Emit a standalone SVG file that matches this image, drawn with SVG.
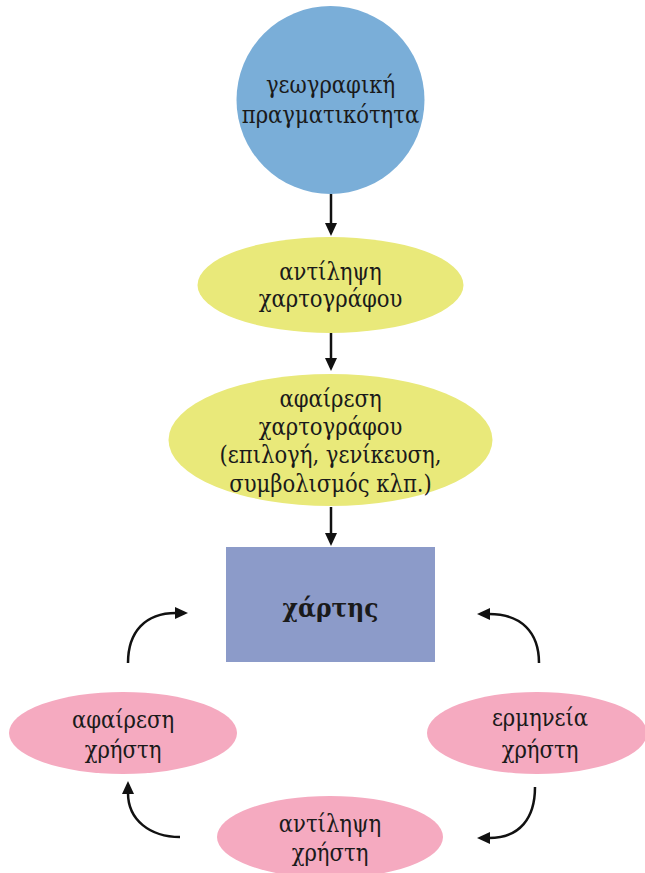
<svg xmlns="http://www.w3.org/2000/svg" width="645" height="873" viewBox="0 0 645 873">
<style>
.t{font-family:"DejaVu Serif Condensed","DejaVu Serif",serif;font-size:23.5px;fill:#1a1a1a;text-anchor:middle}
.b{font-weight:bold;font-size:26px}
.c{fill:none;stroke:#111;stroke-width:2.5}
</style>
<defs>
<marker id="ah" markerUnits="userSpaceOnUse" markerWidth="16" markerHeight="14" refX="1" refY="6" orient="auto">
<path d="M0,0 L13,6 L0,12 z" fill="#111"/>
</marker>
</defs>
<rect width="645" height="873" fill="#fff"/>
<g id="geo">
<circle cx="330.5" cy="100" r="94" fill="#7aaed8"/>
<text class="t" x="330.5" y="93">γεωγραφική</text>
<text class="t" x="330.5" y="123">πραγματικότητα</text>
</g>
<g id="antilipsi-xartografou">
<ellipse cx="330.5" cy="285" rx="133" ry="48" fill="#e9e97a"/>
<text class="t" x="330.5" y="280">αντίληψη</text>
<text class="t" x="330.5" y="307">χαρτογράφου</text>
</g>
<g id="afairesi-xartografou">
<ellipse cx="330.5" cy="440" rx="162" ry="66" fill="#e9e97a"/>
<text class="t" x="330.5" y="407">αφαίρεση</text>
<text class="t" x="330.5" y="435">χαρτογράφου</text>
<text class="t" x="330.5" y="463">(επιλογή, γενίκευση,</text>
<text class="t" x="330.5" y="492">συμβολισμός κλπ.)</text>
</g>
<g id="xartis">
<rect x="226" y="547" width="209" height="115" fill="#8c9bc9"/>
<text class="t b" x="330.5" y="617">χάρτης</text>
</g>
<g id="afairesi-xristi">
<ellipse cx="123" cy="733" rx="114" ry="41" fill="#f5aac0"/>
<text class="t" x="123" y="728">αφαίρεση</text>
<text class="t" x="123" y="758">χρήστη</text>
</g>
<g id="ermineia-xristi">
<ellipse cx="537" cy="733" rx="110" ry="41" fill="#f5aac0"/>
<text class="t" x="540" y="726">ερμηνεία</text>
<text class="t" x="540" y="758">χρήστη</text>
</g>
<g id="antilipsi-xristi">
<ellipse cx="330" cy="837" rx="113" ry="41" fill="#f5aac0"/>
<text class="t" x="330" y="832">αντίληψη</text>
<text class="t" x="330" y="861">χρήστη</text>
</g>
<g id="connectors">
<path class="c" d="M331,194 V224" marker-end="url(#ah)"/>
<path class="c" d="M331,333 V359" marker-end="url(#ah)"/>
<path class="c" d="M331,507 V534" marker-end="url(#ah)"/>
<path class="c" d="M128,663 C128,632 145,613 176,613" marker-end="url(#ah)"/>
<path class="c" d="M539,663 C539,632 521,614 489,614" marker-end="url(#ah)"/>
<path class="c" d="M180,837 C150,837 128,820 128,793" marker-end="url(#ah)"/>
<path class="c" d="M535,787 C535,818 520,838 489,838" marker-end="url(#ah)"/>
</g>
</svg>
